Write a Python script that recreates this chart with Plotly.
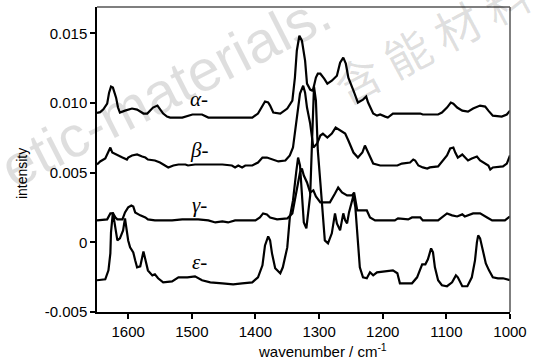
import plotly.graph_objects as go

# ---- data (wavenumber in cm-1, intensity) ----
alpha_x = [1649, 1644, 1639, 1633, 1630, 1627, 1624, 1619, 1616, 1613, 1605, 1600, 1594, 1586, 1581, 1576,
           1570, 1565, 1561, 1554, 1550, 1545, 1539, 1534, 1515, 1499, 1484, 1474, 1443, 1405, 1396, 1389,
           1385, 1380, 1377, 1372, 1361, 1350, 1342, 1338, 1335, 1331, 1327, 1322, 1319, 1314, 1311, 1309,
           1305, 1302, 1298, 1292, 1287, 1280, 1272, 1267, 1262, 1258, 1254, 1246, 1239, 1231, 1226, 1223,
           1215, 1209, 1204, 1196, 1192, 1184, 1141, 1137, 1113, 1107, 1099, 1093, 1089, 1083, 1075, 1066,
           1058, 1047, 1039, 1034, 1027, 1013, 1005, 1000]
alpha_y = [0.00930, 0.00935, 0.00955, 0.00996, 0.01075, 0.01118, 0.01111, 0.01039, 0.00968, 0.00932,
           0.00946, 0.00953, 0.00961, 0.00953, 0.00939, 0.00925, 0.00925, 0.00946, 0.00968, 0.00982,
           0.00953, 0.00925, 0.00903, 0.00896, 0.00896, 0.00918, 0.00918, 0.00896, 0.00896, 0.00896,
           0.00925, 0.00975, 0.01011, 0.01004, 0.00982, 0.00932, 0.00925, 0.00961, 0.01018, 0.01183,
           0.01376, 0.01484, 0.01448, 0.01305, 0.01140, 0.01097, 0.01090, 0.01104, 0.01183, 0.01211,
           0.01211, 0.01176, 0.01140, 0.01161, 0.01197, 0.01290, 0.01326, 0.01283, 0.01183, 0.01090,
           0.01004, 0.01025, 0.01047, 0.01004, 0.00925, 0.00910, 0.00918, 0.00903, 0.00896, 0.00925,
           0.00925, 0.00918, 0.00918, 0.00932, 0.00968, 0.01004, 0.00996, 0.00968, 0.00946, 0.00939,
           0.00961, 0.00982, 0.00975, 0.00946, 0.00910, 0.00903, 0.00918, 0.00946]

beta_x = [1649, 1644, 1636, 1631, 1628, 1625, 1617, 1609, 1602, 1600, 1594, 1586, 1578, 1573, 1569, 1558,
          1550, 1542, 1537, 1529, 1521, 1510, 1506, 1495, 1471, 1452, 1437, 1432, 1427, 1421, 1416, 1405,
          1396, 1389, 1382, 1374, 1364, 1353, 1346, 1341, 1335, 1330, 1325, 1322, 1319, 1314, 1309, 1303,
          1298, 1294, 1287, 1280, 1274, 1267, 1259, 1254, 1246, 1239, 1232, 1228, 1223, 1215, 1204, 1177,
          1170, 1157, 1152, 1149, 1144, 1137, 1130, 1126, 1113, 1105, 1099, 1094, 1089, 1086, 1082, 1075,
          1071, 1066, 1060, 1052, 1047, 1039, 1034, 1031, 1027, 1011, 1005, 1000]
beta_y = [0.00559, 0.00581, 0.00602, 0.00660, 0.00681, 0.00645, 0.00624, 0.00609, 0.00595, 0.00609,
          0.00624, 0.00631, 0.00616, 0.00609, 0.00595, 0.00588, 0.00573, 0.00552, 0.00538, 0.00552,
          0.00559, 0.00559, 0.00552, 0.00559, 0.00559, 0.00559, 0.00552, 0.00538, 0.00552, 0.00538,
          0.00552, 0.00552, 0.00573, 0.00609, 0.00609, 0.00595, 0.00581, 0.00588, 0.00624, 0.00681,
          0.00875, 0.01068, 0.01125, 0.01075, 0.00968, 0.00853, 0.00681, 0.00710, 0.00767, 0.00781,
          0.00753, 0.00781, 0.00824, 0.00803, 0.00781, 0.00731, 0.00645, 0.00609, 0.00645, 0.00695,
          0.00645, 0.00566, 0.00552, 0.00552, 0.00566, 0.00573, 0.00595, 0.00588, 0.00552, 0.00538,
          0.00530, 0.00538, 0.00545, 0.00588, 0.00624, 0.00674, 0.00681, 0.00645, 0.00609, 0.00631,
          0.00609, 0.00588, 0.00602, 0.00616, 0.00588, 0.00566, 0.00552, 0.00523, 0.00538, 0.00545,
          0.00566, 0.00624]

gamma_x = [1649, 1633, 1628, 1624, 1620, 1617, 1609, 1605, 1600, 1595, 1592, 1589, 1581, 1573, 1569, 1558,
           1547, 1531, 1515, 1490, 1474, 1463, 1452, 1443, 1432, 1400, 1393, 1388, 1382, 1377, 1366, 1350,
           1342, 1338, 1333, 1330, 1327, 1324, 1319, 1314, 1309, 1305, 1298, 1283, 1275, 1270, 1264, 1256,
           1248, 1245, 1240, 1225, 1220, 1212, 1181, 1176, 1160, 1154, 1141, 1137, 1113, 1107, 1099, 1091,
           1083, 1075, 1071, 1058, 1047, 1036, 1028, 1008, 1003, 1000]
gamma_y = [0.00158, 0.00165, 0.00208, 0.00208, 0.00179, 0.00165, 0.00165, 0.00215, 0.00251, 0.00265,
           0.00258, 0.00215, 0.00194, 0.00179, 0.00165, 0.00158, 0.00158, 0.00158, 0.00165, 0.00165,
           0.00158, 0.00143, 0.00151, 0.00143, 0.00158, 0.00158, 0.00179, 0.00208, 0.00201, 0.00179,
           0.00165, 0.00172, 0.00208, 0.00301, 0.00409, 0.00502, 0.00530, 0.00480, 0.00430, 0.00358,
           0.00373, 0.00330, 0.00287, 0.00287, 0.00351, 0.00394, 0.00358, 0.00337, 0.00337, 0.00358,
           0.00229, 0.00229, 0.00179, 0.00158, 0.00158, 0.00172, 0.00165, 0.00179, 0.00179, 0.00158,
           0.00158, 0.00179, 0.00208, 0.00194, 0.00186, 0.00201, 0.00186, 0.00208, 0.00208, 0.00179,
           0.00158, 0.00158, 0.00172, 0.00186]

eps_x = [1649, 1636, 1631, 1628, 1627, 1625, 1624, 1622, 1619, 1617, 1613, 1608, 1605, 1602, 1600, 1597,
         1592, 1589, 1586, 1581, 1578, 1576, 1572, 1569, 1562, 1558, 1553, 1545, 1531, 1521, 1507, 1495,
         1484, 1471, 1452, 1435, 1421, 1405, 1396, 1389, 1385, 1380, 1377, 1374, 1369, 1361, 1357, 1350,
         1346, 1341, 1336, 1333, 1330, 1327, 1324, 1320, 1317, 1314, 1311, 1308, 1305, 1302, 1298, 1295,
         1291, 1286, 1280, 1275, 1272, 1267, 1262, 1259, 1256, 1253, 1248, 1246, 1243, 1240, 1236, 1231,
         1225, 1220, 1215, 1209, 1199, 1184, 1177, 1173, 1154, 1146, 1138, 1133, 1129, 1124, 1121, 1118,
         1113, 1107, 1099, 1091, 1085, 1082, 1075, 1067, 1060, 1055, 1052, 1050, 1047, 1042, 1038, 1033,
         1027, 1019, 1011, 1000]
eps_y = [-0.00272, -0.00265, -0.00201, -0.00079, 0.00072, 0.00208, 0.00215, 0.00158, 0.00050, 0.00014,
         0.00029, 0.00086, 0.00172, 0.00086, 0.00014, -0.00036, -0.00072, -0.00129, -0.00179, -0.00172,
         -0.00093, -0.00065, -0.00143, -0.00201, -0.00237, -0.00229, -0.00258, -0.00287, -0.00280,
         -0.00251, -0.00251, -0.00244, -0.00272, -0.00287, -0.00294, -0.00301, -0.00294, -0.00287,
         -0.00251, -0.00165, -0.00022, 0.00043, 0.00014, -0.00079, -0.00186, -0.00222, -0.00179,
         -0.00036, 0.00179, 0.00301, 0.00502, 0.00609, 0.00552, 0.00337, 0.00143, 0.00100, 0.00208,
         0.00337, 0.00731, 0.01118, 0.01018, 0.00660, 0.00430, 0.00265, 0.00014, -0.00007, 0.00065,
         0.00208, 0.00136, 0.00086, 0.00208, 0.00158, 0.00136, 0.00215, 0.00301, 0.00337, 0.00251,
         0.00036, -0.00179, -0.00251, -0.00258, -0.00215, -0.00237, -0.00215, -0.00208, -0.00201,
         -0.00222, -0.00294, -0.00294, -0.00251, -0.00158, -0.00158, -0.00122, -0.00043, -0.00072,
         -0.00179, -0.00272, -0.00308, -0.00315, -0.00287, -0.00237, -0.00251, -0.00315, -0.00315,
         -0.00251, -0.00129, 0.00000, 0.00050, 0.00029, -0.00079, -0.00151, -0.00201, -0.00251,
         -0.00258, -0.00258, -0.00272]

series_names = ["α-", "β-", "γ-", "ε-"]
label_x = [1488, 1488, 1488, 1488]
label_y = [0.0103, 0.0066, 0.00265, -0.00143]

x_ticks = [1600, 1500, 1400, 1300, 1200, 1100, 1000]
y_ticks = [-0.005, 0, 0.005, 0.010, 0.015]
y_ticklabels = ["-0.005", "0", "0.005", "0.010", "0.015"]

FONT = "Liberation Sans, Arial, sans-serif"

fig = go.Figure()
for xs, ys, nm in [(alpha_x, alpha_y, series_names[0]), (beta_x, beta_y, series_names[1]),
                   (gamma_x, gamma_y, series_names[2]), (eps_x, eps_y, series_names[3])]:
    fig.add_trace(go.Scatter(x=xs, y=ys, mode="lines", name=nm,
                             line=dict(color="black", width=2.2), showlegend=False))

for nm, lx, ly in zip(series_names, label_x, label_y):
    fig.add_annotation(x=lx, y=ly, text="<i>" + nm + "</i>", showarrow=False,
                       font=dict(family="Liberation Serif, Times New Roman, serif", size=21, color="black"),
                       xanchor="center", yanchor="middle")

# axis titles placed as annotations
fig.add_annotation(x=1294, y=0, xref="x", yref="paper", text="wavenumber / cm<sup>-1</sup>",
                   showarrow=False, xanchor="center", yanchor="top", yshift=-27,
                   font=dict(family=FONT, size=15, color="black"))
fig.add_annotation(x=0, y=0.0049, xref="paper", yref="y", text="intensity", textangle=-90,
                   showarrow=False, xanchor="center", yanchor="middle", xshift=-75,
                   font=dict(family=FONT, size=14, color="black"))

# watermark
fig.add_annotation(x=0.165, y=0.728, xref="paper", yref="paper", text="etic-materials.",
                   showarrow=False, textangle=-27, xanchor="center", yanchor="middle",
                   font=dict(family="Liberation Sans, Arial, sans-serif", size=58, color="rgba(0,0,0,0.13)"))
fig.add_annotation(x=0.811, y=0.898, xref="paper", yref="paper", text="含 能 材 料",
                   showarrow=False, textangle=-28, xanchor="center", yanchor="middle",
                   font=dict(family="Noto Sans CJK SC", size=46, color="rgba(0,0,0,0.13)"))

# top and right border
fig.add_shape(type="line", xref="paper", yref="paper", x0=0, x1=1, y0=1, y1=1,
              line=dict(color="#555555", width=1.5))
fig.add_shape(type="line", xref="paper", yref="paper", x0=1, x1=1, y0=0, y1=1,
              line=dict(color="#555555", width=1.5))

fig.update_xaxes(range=[1649, 1000], tickvals=x_ticks, ticks="outside", ticklen=5, tickwidth=1.5,
                 tickcolor="black", showline=True, linecolor="black", linewidth=1.5,
                 showgrid=False, zeroline=False, tickfont=dict(family=FONT, size=15, color="black"))
fig.update_yaxes(range=[-0.005, 0.0169], tickvals=y_ticks, ticktext=y_ticklabels, ticks="outside",
                 ticklen=5, tickwidth=1.5, tickcolor="black", showline=True, linecolor="black",
                 linewidth=1.5, showgrid=False, zeroline=False,
                 tickfont=dict(family=FONT, size=15, color="black"))

fig.update_layout(width=533, height=363, margin=dict(l=97, r=23, t=7, b=51),
                  plot_bgcolor="white", paper_bgcolor="white")

fig.write_html("out.html")
